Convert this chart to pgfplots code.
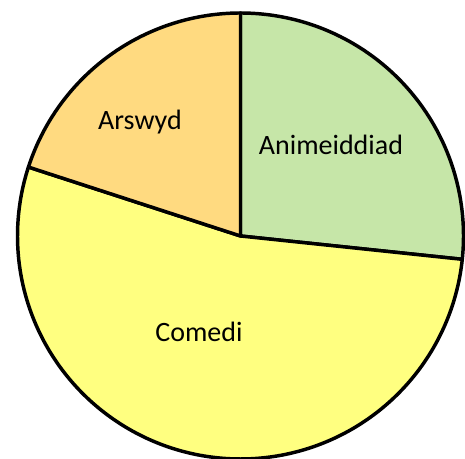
\documentclass[border=0pt]{standalone}
\usepackage{pgfplots}
\usepackage{pgfplotstable}
\pgfplotsset{compat=1.18}
\usepackage{fontspec}
\setmainfont{Carlito}
\definecolor{cAni}{HTML}{C6E6A8}
\definecolor{cCom}{HTML}{FFFF80}
\definecolor{cArs}{HTML}{FFDA80}
\pgfplotstableread{
label value
Animeiddiad 4
Comedi 8
Arswyd 3
}\piedata
\begin{document}
\begin{tikzpicture}
\pgfplotstablegetelem{0}{value}\of\piedata \let\vA\pgfplotsretval
\pgfplotstablegetelem{1}{value}\of\piedata \let\vB\pgfplotsretval
\pgfplotstablegetelem{2}{value}\of\piedata \let\vC\pgfplotsretval
\pgfmathsetmacro\tot{\vA+\vB+\vC}
\pgfmathsetmacro\aA{90}
\pgfmathsetmacro\aB{90-360*\vA/\tot}
\pgfmathsetmacro\aC{\aB-360*\vB/\tot}
\pgfmathsetmacro\aD{\aC-360*\vC/\tot}
\def\cx{240.5}\def\cy{223}\def\rr{223}
\begin{axis}[width=348.75pt,height=344.25pt,scale only axis,hide axis,
  xmin=0,xmax=465,ymin=0,ymax=459,clip=true]
\addplot[draw=none] coordinates {(0,0) (465,459)};
\addplot[fill=cAni,draw=black,line width=2.6pt,line join=round,domain=\aB:\aA,samples=120]
  ({\cx+\rr*cos(x)},{\cy+\rr*sin(x)}) -- (axis cs:\cx,\cy) -- cycle;
\addplot[fill=cCom,draw=black,line width=2.6pt,line join=round,domain=\aC:\aB,samples=200]
  ({\cx+\rr*cos(x)},{\cy+\rr*sin(x)}) -- (axis cs:\cx,\cy) -- cycle;
\addplot[fill=cArs,draw=black,line width=2.6pt,line join=round,domain=\aD:\aC,samples=100]
  ({\cx+\rr*cos(x)},{\cy+\rr*sin(x)}) -- (axis cs:\cx,\cy) -- cycle;
\node[font=\fontsize{21}{24}\selectfont] at (axis cs:331,314) {Animeiddiad};
\node[font=\fontsize{21}{24}\selectfont] at (axis cs:140,337) {Arswyd};
\node[font=\fontsize{21}{24}\selectfont] at (axis cs:199,127) {Comedi};
\end{axis}
\end{tikzpicture}
\end{document}
